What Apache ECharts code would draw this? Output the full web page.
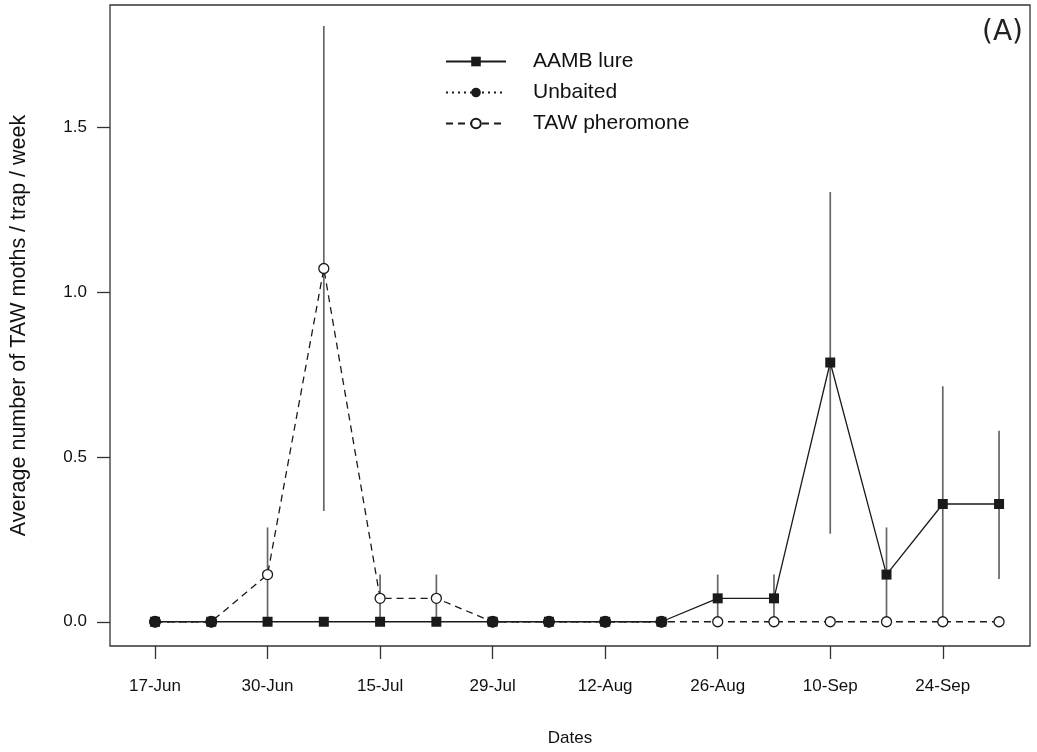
<!DOCTYPE html>
<html>
<head>
<meta charset="utf-8">
<script src="https://cdn.jsdelivr.net/npm/echarts@6/dist/echarts.min.js"></script>
<style>
html,body{margin:0;padding:0;background:#fff;}
#chart{width:1037px;height:752px;}
</style>
</head>
<body>
<div id="chart"></div>
<script>
// ---- data ----
const dates = ['17-Jun','24-Jun','30-Jun','8-Jul','15-Jul','22-Jul','29-Jul','5-Aug','12-Aug','19-Aug','26-Aug','3-Sep','10-Sep','17-Sep','24-Sep','1-Oct'];
const tickIndex = [1,3,5,7,9,11,13,15];
const tickLabels = ['17-Jun','30-Jun','15-Jul','29-Jul','12-Aug','26-Aug','10-Sep','24-Sep'];
const yTicks = [0, 0.5, 1.0, 1.5];

const aamb     = [0,0,0,0,0,0,0,0,0,0,0.071,0.071,0.786,0.143,0.357,0.357];
const aambLow  = [null,null,null,null,null,null,null,null,null,null,0,0,0.267,0,0,0.13];
const aambHigh = [null,null,null,null,null,null,null,null,null,null,0.143,0.143,1.303,0.286,0.714,0.579];

const unbaited = [0,0,null,null,null,null,0,0,0,0,null,null,null,null,null,null];

const taw      = [0,0,0.143,1.071,0.071,0.071,0,0,0,0,0,0,0,0,0,0];
const tawLow   = [null,null,0,0.336,0,0,null,null,null,null,null,null,null,null,null,null];
const tawHigh  = [null,null,0.286,1.806,0.143,0.143,null,null,null,null,null,null,null,null,null,null];

// ---- build ----
const toPairs = arr => arr.map((v,i) => [i+1, v]);
const toErr = (lo,hi) => lo.map((v,i) => [i+1, v, hi[i]]).filter(d => d[1] !== null && d[2] !== null);

const ink = '#1a1a1a';
const font = 'Liberation Sans, Arial, Helvetica, sans-serif';

function errSeries(name, data, z){
  return {
    name: name, type: 'custom', z: z,
    data: data,
    encode: {x: 0, y: [1, 2]},
    renderItem: function(params, api){
      const p1 = api.coord([api.value(0), api.value(1)]);
      const p2 = api.coord([api.value(0), api.value(2)]);
      return {type:'line', shape:{x1:p1[0], y1:p1[1], x2:p2[0], y2:p2[1]},
              style:{stroke:'#666', lineWidth:1.7}};
    },
    silent: true
  };
}

const chart = echarts.init(document.getElementById('chart'), null, {renderer:'canvas'});
chart.setOption({
  animation: false,
  backgroundColor: '#fff',
  textStyle: {fontFamily: font},
  grid: {left: 110, right: 7, top: 5, bottom: 106, show: true, borderColor: '#333', borderWidth: 1.3, backgroundColor: 'transparent'},
  graphic: [{type:'text', right: 14, top: 19, style:{text:'(A)', fontSize: 28, fontFamily: 'DejaVu Sans, sans-serif', fill:'#222'}}],
  legend: {
    data: ['AAMB lure','Unbaited','TAW pheromone'],
    orient: 'vertical', left: 440, top: 46,
    itemWidth: 60, itemHeight: 12, itemGap: 10,
    textStyle: {fontSize: 21, color: '#111', fontFamily: font, padding: [0,0,0,22]}
  },
  xAxis: {
    type: 'value', min: 0.2, max: 16.55,
    name: 'Dates', nameLocation: 'middle', nameGap: 84,
    nameTextStyle: {fontSize: 17, color: '#111'},
    axisLine: {show: false, onZero: false},
    splitLine: {show: false},
    axisTick: {show: true, length: 13, customValues: tickIndex, lineStyle:{color:'#333', width:1.3}},
    axisLabel: {customValues: tickIndex, margin: 32, fontSize: 17, color: '#111',
      formatter: v => tickLabels[tickIndex.indexOf(Math.round(v))] || ''}
  },
  yAxis: {
    type: 'value', min: -0.0735, max: 1.87,
    name: 'Average number of TAW moths / trap / week', nameLocation: 'middle', nameGap: 80,
    nameTextStyle: {fontSize: 21.5, color: '#111'},
    axisLine: {show: false, onZero: false},
    splitLine: {show: false},
    axisTick: {show: true, length: 13, customValues: yTicks, lineStyle:{color:'#333', width:1.3}},
    axisLabel: {customValues: yTicks, margin: 23, fontSize: 17, color: '#111',
      formatter: v => v.toFixed(1)}
  },
  series: [
    errSeries('errAAMB', toErr(aambLow, aambHigh), 1),
    errSeries('errTAW', toErr(tawLow, tawHigh), 1),
    {
      name: 'AAMB lure', type: 'line', z: 3,
      data: toPairs(aamb),
      symbol: 'rect', symbolSize: 10,
      itemStyle: {color: ink},
      lineStyle: {color: ink, width: 1.3, type: 'solid'}
    },
    {
      name: 'TAW pheromone', type: 'line', z: 4,
      data: toPairs(taw),
      symbol: 'circle', symbolSize: 10, showAllSymbol: true,
      itemStyle: {color: '#fff', borderColor: ink, borderWidth: 1.3},
      lineStyle: {color: ink, width: 1.3, type: [7,5]}
    },
    {
      name: 'Unbaited', type: 'line', z: 5,
      data: toPairs(unbaited),
      symbol: 'circle', symbolSize: 12,
      itemStyle: {color: ink},
      lineStyle: {color: ink, width: 1.3, type: [2,4]}
    }
  ]
});
</script>
</body>
</html>
